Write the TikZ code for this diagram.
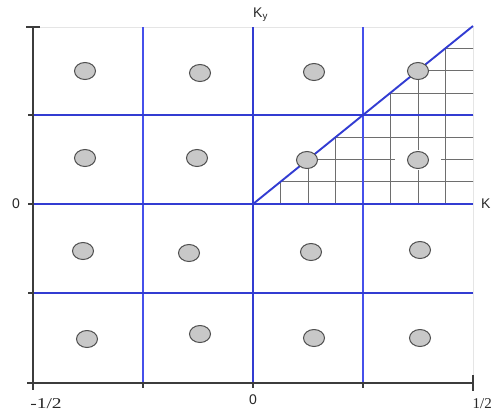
\documentclass[tikz,border=0pt]{standalone}
\usepackage{fontspec}
\setmainfont{Liberation Serif}
\setsansfont{Liberation Sans}
\usetikzlibrary{shapes.geometric}
\begin{document}
\begin{tikzpicture}[x=1pt,y=-1pt,
  bluethick/.style={draw=bl, line width=1.9pt},
  bluethin/.style={draw=blt, line width=1.2pt},
  axisline/.style={draw=axc, line width=1.1pt},
  gridline/.style={draw=gr, line width=0.8pt},
  faint/.style={draw=black!10, line width=0.6pt},
  dot/.style={ellipse, minimum width=21pt, minimum height=17pt, inner sep=0pt, fill=dotfill, draw=dotdraw, line width=1pt},
  halo/.style={ellipse, minimum width=46pt, minimum height=20pt, inner sep=0pt, fill=white},
  sanslab/.style={font=\sffamily\fontsize{14}{16}\selectfont, text=txt, inner sep=0pt},
  seriflab/.style={font=\fontsize{15}{17}\selectfont, text=txt, inner sep=0pt}]
\definecolor{bl}{RGB}{50,60,210}
\definecolor{blt}{RGB}{70,80,235}
\definecolor{axc}{RGB}{60,60,60}
\definecolor{gr}{RGB}{110,110,110}
\definecolor{txt}{RGB}{40,40,40}
\definecolor{dotfill}{RGB}{200,200,200}
\definecolor{dotdraw}{RGB}{80,80,80}
\useasboundingbox (0,0) rectangle (493,416);
\fill[white] (0,0) rectangle (493,416);
% faint frame
\draw[faint] (33,27) -- (473,27) -- (473,383);
% grid in triangle
\begin{scope}
  \clip (253,204) -- (473,204) -- (473,26) -- cycle;
  \foreach \k in {1,...,7} {
    \draw[gridline] ({253+27.5*\k},204) -- ({253+27.5*\k},20);
    \draw[gridline] (253,{204-22.22*\k}) -- (480,{204-22.22*\k});
  }
\end{scope}
% blue lines
\draw[bluethin] (143,27) -- (143,383);
\draw[bluethin] (363,27) -- (363,383);
\draw[bluethick] (253,27) -- (253,383);
\draw[bluethick] (33,115) -- (473,115);
\draw[bluethick] (33,204) -- (473,204);
\draw[bluethick] (33,293) -- (473,293);
\draw[bluethick] (253,204) -- (473,26);
% axes
\draw[axisline] (33,27) -- (33,390);
\draw[axisline] (26,27) -- (40,27);
\draw[axisline] (27,383) -- (473,383);
\foreach \yy in {115,204,293} \draw[axisline] (28,\yy) -- (33,\yy);
\foreach \xx in {143,253,363} \draw[axisline] (\xx,383) -- (\xx,388);
\draw[axisline] (473,375) -- (473,391);
% dots
\node[halo] at (418,160) {};
\node[dot] (c11) at (85,71) {};
\node[dot] (c12) at (200,73) {};
\node[dot] (c13) at (314,72) {};
\node[dot] (c14) at (418,71) {};
\node[dot] (c21) at (85,158) {};
\node[dot] (c22) at (197,158) {};
\node[dot] (c23) at (307,160) {};
\node[dot] (c24) at (418,160) {};
\node[dot] (c31) at (83,251) {};
\node[dot] (c32) at (189,253) {};
\node[dot] (c33) at (311,252) {};
\node[dot] (c34) at (420,250) {};
\node[dot] (c41) at (87,339) {};
\node[dot] (c42) at (200,334) {};
\node[dot] (c43) at (314,338) {};
\node[dot] (c44) at (420,338) {};
% labels
\node[sanslab, anchor=west] (ky) at (253,15) {K$_{\mathsf{y}}$};
\node[sanslab, anchor=west] (kx) at (481,204) {K};
\node[sanslab] (zl) at (16,204) {0};
\node[sanslab] (zb) at (253,400) {0};
\node[seriflab] (mh) at (46,404) {\scalebox{1.3}[1]{-1/2}};
\node[seriflab, anchor=east] (ph) at (492,404) {1/2};
\end{tikzpicture}
\end{document}
